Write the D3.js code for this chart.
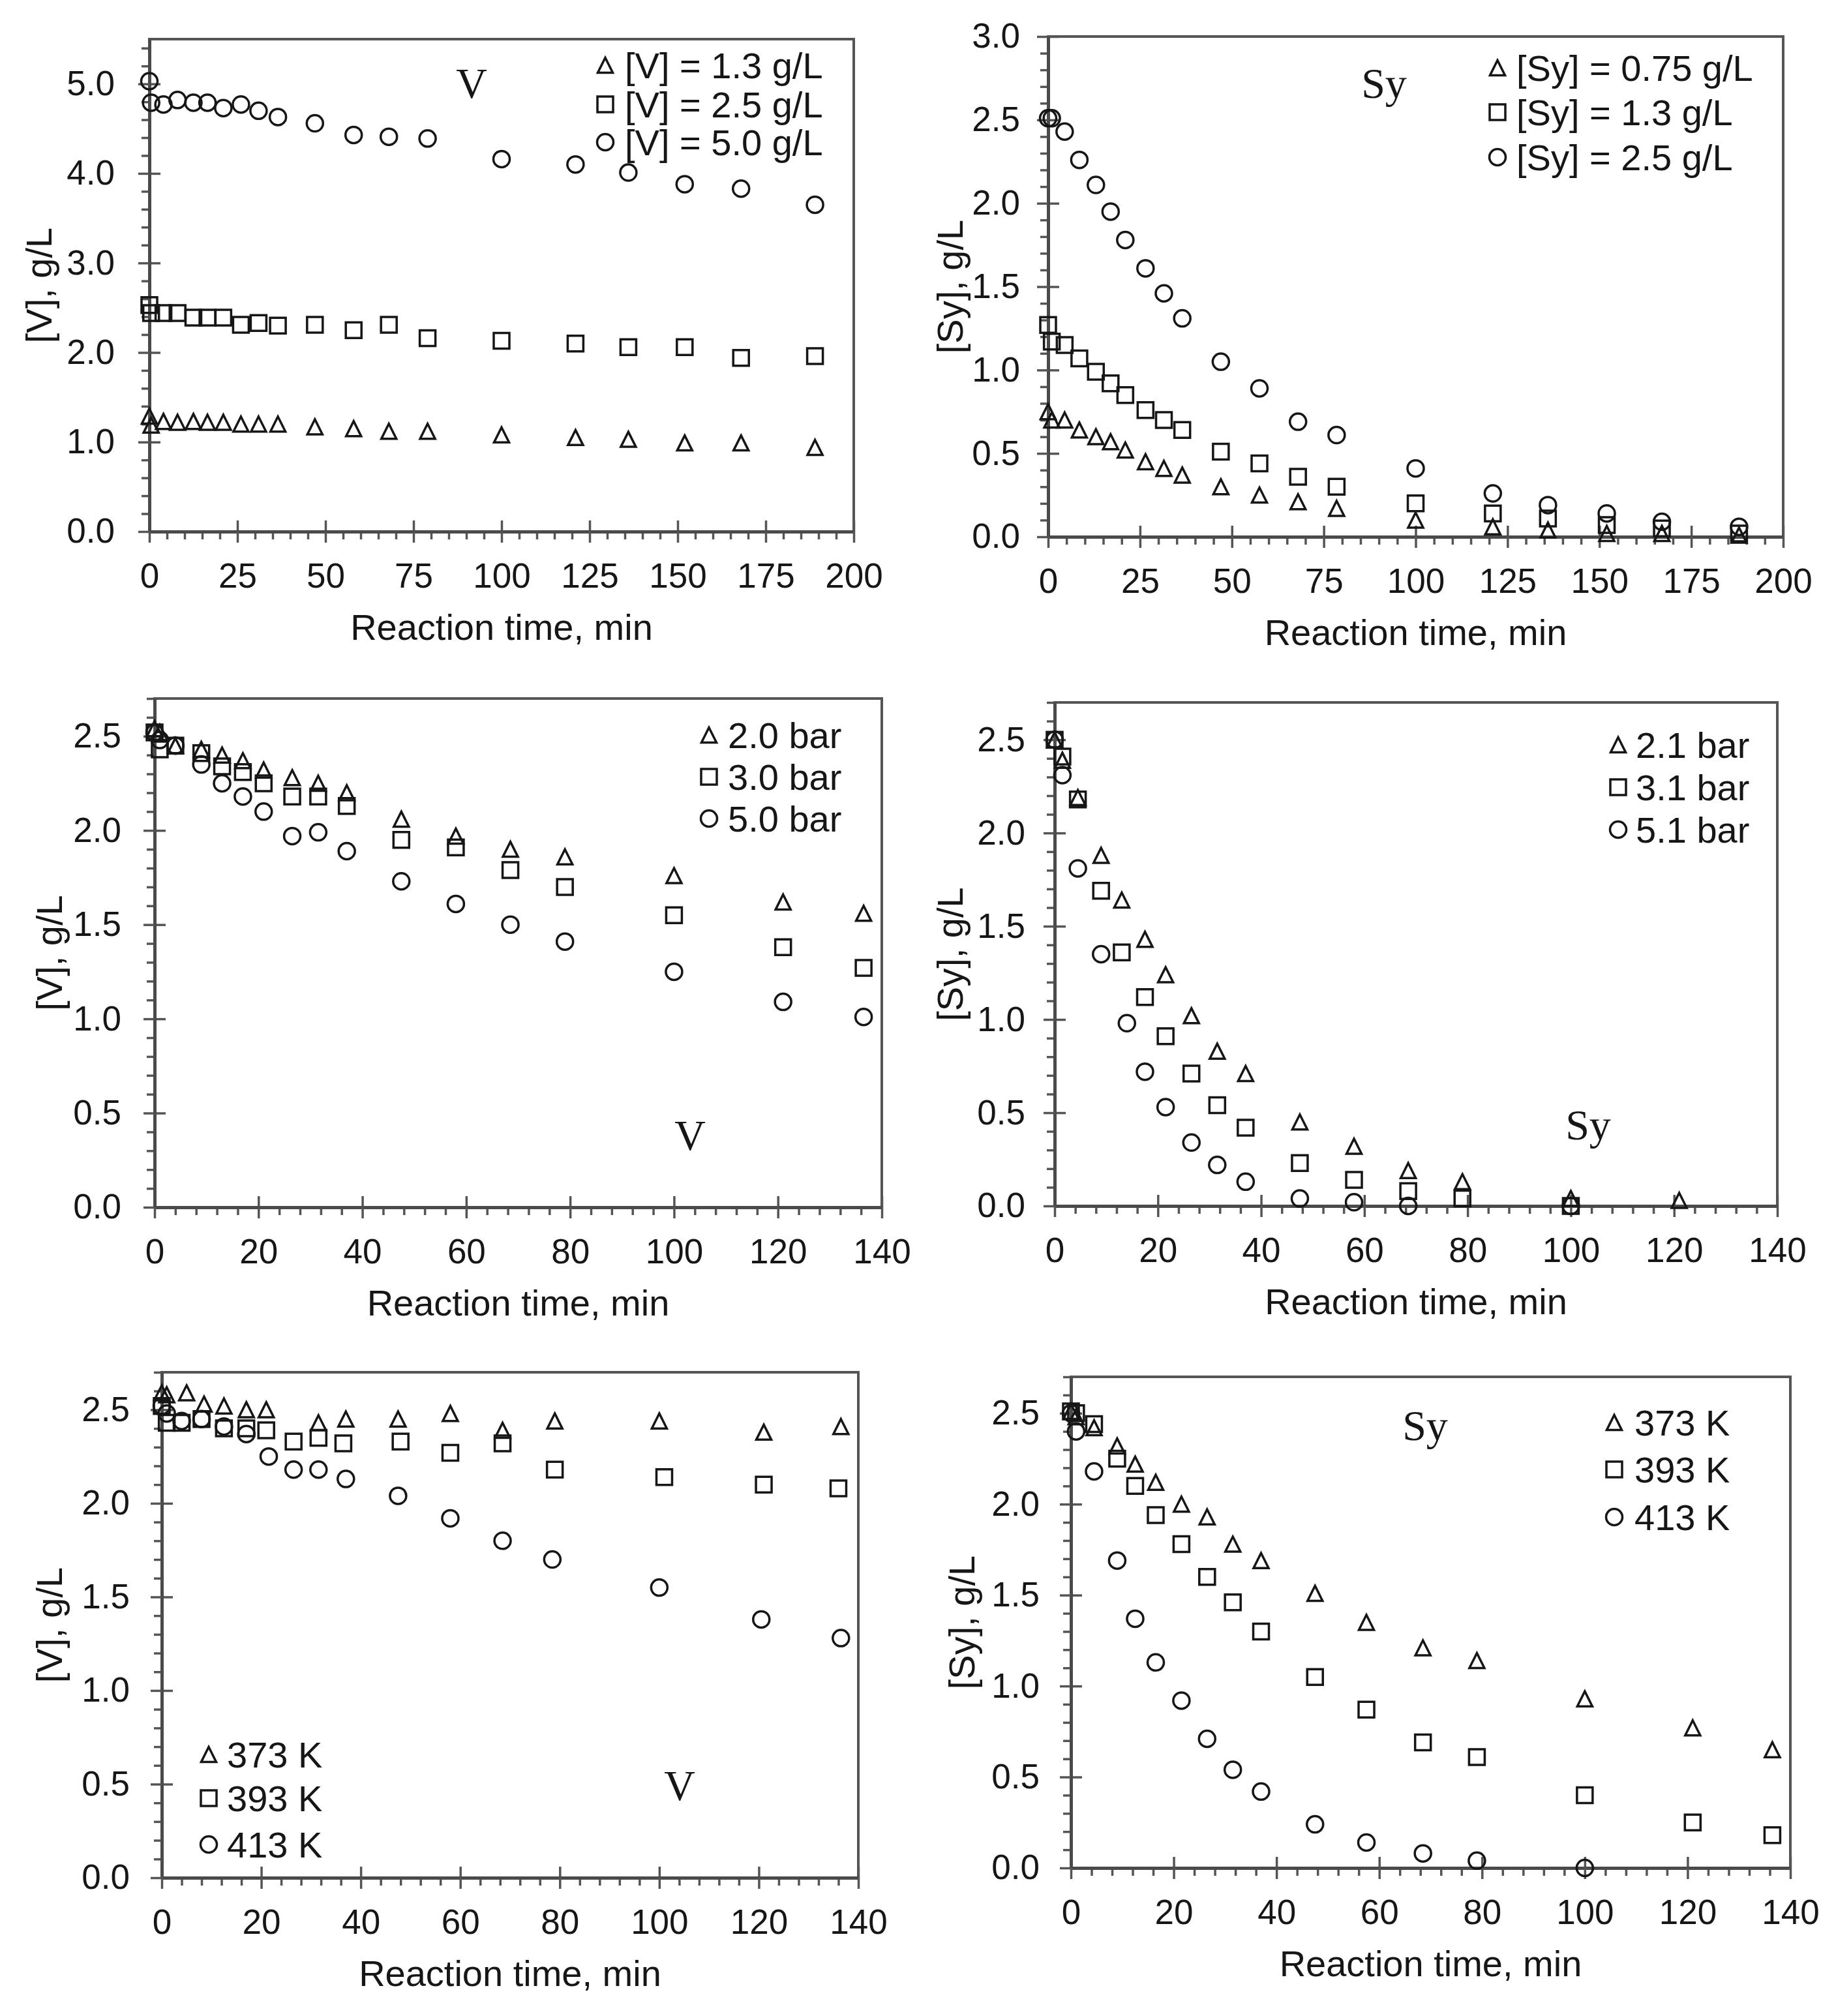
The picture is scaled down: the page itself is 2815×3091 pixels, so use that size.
<!DOCTYPE html>
<html><head><meta charset="utf-8">
<script src="https://cdn.jsdelivr.net/npm/d3@7"></script>
<style>
html,body{margin:0;padding:0;background:#fff;}
svg{display:block;background:#fff;}
</style></head><body>
<svg id="chart" width="2815" height="3091"></svg>
<script>
// ---------------- DATA ----------------
const xTitle = "Reaction time, min";
const xTicks200 = [0,25,50,75,100,125,150,175,200];
const xTicks140 = [0,20,40,60,80,100,120,140];
const yTicks5 = [0,1,2,3,4,5];
const yTicks3 = [0,0.5,1,1.5,2,2.5,3];
const yTicks25 = [0,0.5,1,1.5,2,2.5];

// Panel 1: V, initial concentration
const p1Time = [0,0.5,4,8,12.5,16.5,21,26,31,36.5,47,58,68,79,100,121,136,152,168,189];
const p1V13 = [1.29,1.19,1.23,1.22,1.23,1.22,1.22,1.20,1.20,1.20,1.17,1.15,1.12,1.12,1.08,1.05,1.03,0.99,0.99,0.94];
const p1V25 = [2.53,2.44,2.44,2.44,2.39,2.39,2.39,2.31,2.33,2.30,2.31,2.25,2.31,2.16,2.13,2.10,2.06,2.06,1.94,1.96];
const p1V50 = [5.03,4.79,4.77,4.82,4.79,4.79,4.73,4.77,4.70,4.63,4.56,4.43,4.41,4.39,4.16,4.10,4.01,3.88,3.83,3.65];
const p1Legend = ["[V] = 1.3 g/L","[V] = 2.5 g/L","[V] = 5.0 g/L"];

// Panel 2: Sy, initial concentration
const p2Time = [0,1,4.5,8.5,13,17,21,26.5,31.5,36.5,47,57.5,68,78.5,100,121,136,152,167,188];
const p2Sy075 = [0.75,0.70,0.70,0.64,0.60,0.57,0.52,0.45,0.41,0.37,0.30,0.25,0.21,0.17,0.10,0.06,0.04,0.02,0.02,0.01];
const p2Sy13 = [1.27,1.17,1.15,1.07,0.99,0.92,0.85,0.76,0.70,0.64,0.51,0.44,0.36,0.30,0.20,0.14,0.11,0.07,0.05,0.02];
const p2Sy25 = [2.51,2.51,2.43,2.26,2.11,1.95,1.78,1.61,1.46,1.31,1.05,0.89,0.69,0.61,0.41,0.26,0.19,0.14,0.09,0.06];
const p2Legend = ["[Sy] = 0.75 g/L","[Sy] = 1.3 g/L","[Sy] = 2.5 g/L"];

// Panel 3: V, pressure
const p3Time = [0,1,4,9,13,17,21,26.5,31.5,37,47.5,58,68.5,79,100,121,136.5];
const p3Bar20 = [2.54,2.52,2.45,2.43,2.40,2.37,2.32,2.28,2.25,2.20,2.06,1.97,1.90,1.86,1.76,1.62,1.56];
const p3Bar30 = [2.52,2.43,2.45,2.41,2.34,2.31,2.25,2.18,2.18,2.13,1.95,1.91,1.79,1.70,1.55,1.38,1.27];
const p3Bar50 = [2.52,2.48,2.45,2.35,2.25,2.18,2.10,1.97,1.99,1.89,1.73,1.61,1.50,1.41,1.25,1.09,1.01];
const p3Legend = ["2.0 bar","3.0 bar","5.0 bar"];

// Panel 4: Sy, pressure
const p4TimeT = [0,1.5,4.5,9,13,17.5,21.5,26.5,31.5,37,47.5,58,68.5,79,100,121];
const p4Bar21 = [2.50,2.39,2.19,1.88,1.64,1.43,1.24,1.02,0.83,0.71,0.45,0.32,0.19,0.13,0.04,0.03];
const p4TimeS = [0,1.5,4.5,9,13,17.5,21.5,26.5,31.5,37,47.5,58,68.5,79,100];
const p4Bar31 = [2.50,2.41,2.18,1.69,1.36,1.12,0.91,0.71,0.54,0.42,0.23,0.14,0.08,0.04,0.00];
const p4TimeC = [0,1.5,4.5,9,14,17.5,21.5,26.5,31.5,37,47.5,58,68.5,100];
const p4Bar51 = [2.50,2.31,1.81,1.35,0.98,0.72,0.53,0.34,0.22,0.13,0.04,0.02,0.00,0.00];
const p4Legend = ["2.1 bar","3.1 bar","5.1 bar"];

// Panel 5: V, temperature
const p5TimeT = [0,1,5,8.5,12.5,17,21,31.5,37,47.5,58,68.5,79,100,121,136.5];
const p5K373 = [2.59,2.58,2.59,2.53,2.52,2.50,2.50,2.43,2.45,2.45,2.48,2.39,2.44,2.44,2.38,2.41];
const p5TimeS = [0,1,4,8,12.5,17,21,26.5,31.5,36.5,48,58,68.5,79,101,121,136];
const p5K393 = [2.52,2.43,2.43,2.45,2.40,2.40,2.39,2.33,2.35,2.32,2.33,2.27,2.32,2.18,2.14,2.10,2.08];
const p5TimeC = [0,1,4,8,12.5,17,21.5,26.5,31.5,37,47.5,58,68.5,78.5,100,120.5,136.5];
const p5K413 = [2.52,2.48,2.44,2.45,2.41,2.37,2.25,2.18,2.18,2.13,2.04,1.92,1.80,1.70,1.55,1.38,1.28];
const p5Legend = ["373 K","393 K","413 K"];

// Panel 6: Sy, temperature
const p6Time = [0,1,4.5,9,12.5,16.5,21.5,26.5,31.5,37,47.5,57.5,68.5,79,100,121,136.5];
const p6K373 = [2.51,2.48,2.42,2.32,2.22,2.12,2.00,1.93,1.78,1.69,1.51,1.35,1.21,1.14,0.93,0.77,0.65];
const p6K393 = [2.51,2.50,2.44,2.25,2.10,1.94,1.78,1.60,1.46,1.30,1.05,0.87,0.69,0.61,0.40,0.25,0.18];
const p6K413 = [2.50,2.40,2.18,1.69,1.37,1.13,0.92,0.71,0.54,0.42,0.24,0.14,0.08,0.04,0.00];
const p6Legend = ["373 K","393 K","413 K"];

// ---------------- DRAWING ----------------
const svg = d3.select("#chart");
svg.append("rect").attr("width",2815).attr("height",3091).attr("fill","#fff");

const SANS = '"Liberation Sans", Arial, Helvetica, sans-serif';
const SERIF = '"Liberation Serif", "Times New Roman", serif';
const INK = "#161616";
const AXIS = "#4a4a4a";

const triangleType = { draw(ctx, size){ const w = Math.sqrt(size); const h = w; ctx.moveTo(0,-h/2); ctx.lineTo(w/2,h/2); ctx.lineTo(-w/2,h/2); ctx.closePath(); } };
const squareType = { draw(ctx, size){ const s = Math.sqrt(size); ctx.rect(-s/2,-s/2,s,s); } };
const circleType = { draw(ctx, size){ const r = Math.sqrt(size)/2; ctx.moveTo(r,0); ctx.arc(0,0,r,0,2*Math.PI); } };
const shapes = {
  tri: d3.symbol().type(triangleType).size(23*23),
  sq: d3.symbol().type(squareType).size(24*24),
  cir: d3.symbol().type(circleType).size(25*25)
};

function styleAxis(sel, fontSize){
  sel.attr("font-family", SANS).attr("font-size", fontSize);
  sel.select(".domain").attr("stroke", AXIS).attr("stroke-width", 5);
  sel.selectAll(".tick line").attr("stroke", "#555").attr("stroke-width", 3.5);
  sel.selectAll(".tick text").attr("fill", INK);
}

function drawPanel(c){
  const g = svg.append("g");
  const x = d3.scaleLinear().domain(c.xDomain).range([c.L, c.R]);
  const y = d3.scaleLinear().domain(c.yDomain).range([c.B, c.T]);

  // frame
  g.append("rect").attr("x",c.L).attr("y",c.T).attr("width",c.R-c.L).attr("height",c.B-c.T)
    .attr("fill","none").attr("stroke","#555").attr("stroke-width",4);

  const near = (arr,v) => arr.some(t => Math.abs(t-v) < 1e-6);
  const xMinor = d3.range(c.xDomain[0], c.xDomain[1]+1e-6, c.xMinor).filter(v => !near(c.xTicks,v));
  const yMinor = d3.range(c.yDomain[0], c.yDomain[1]+1e-6, c.yMinor).map(v=>+v.toFixed(4)).filter(v => !near(c.yTicks,v));

  // minor ticks (outward)
  g.append("g").attr("transform",`translate(0,${c.B})`)
    .call(d3.axisBottom(x).tickValues(xMinor).tickSize(12).tickSizeOuter(0).tickFormat(""))
    .call(s=>{ s.select(".domain").remove(); s.selectAll(".tick line").attr("stroke","#555").attr("stroke-width",3.5); });
  g.append("g").attr("transform",`translate(${c.L},0)`)
    .call(d3.axisLeft(y).tickValues(yMinor).tickSize(12).tickSizeOuter(0).tickFormat(""))
    .call(s=>{ s.select(".domain").remove(); s.selectAll(".tick line").attr("stroke","#555").attr("stroke-width",3.5); });

  // major ticks inward (crossing)
  g.append("g").attr("transform",`translate(0,${c.B})`)
    .call(d3.axisTop(x).tickValues(c.xTicks).tickSize(17).tickSizeOuter(0).tickFormat(""))
    .call(s=>{ s.select(".domain").remove(); s.selectAll(".tick line").attr("stroke","#555").attr("stroke-width",3.5); });
  g.append("g").attr("transform",`translate(${c.L},0)`)
    .call(d3.axisRight(y).tickValues(c.yTicks).tickSize(17).tickSizeOuter(0).tickFormat(""))
    .call(s=>{ s.select(".domain").remove(); s.selectAll(".tick line").attr("stroke","#555").attr("stroke-width",3.5); });

  // major axes with labels
  g.append("g").attr("transform",`translate(0,${c.B})`)
    .call(d3.axisBottom(x).tickValues(c.xTicks).tickSize(17).tickSizeOuter(0).tickPadding(31).tickFormat(d3.format("d")))
    .call(s=>styleAxis(s, 53));
  g.append("g").attr("transform",`translate(${c.L},0)`)
    .call(d3.axisLeft(y).tickValues(c.yTicks).tickSize(17).tickSizeOuter(0).tickPadding(c.yPad).tickFormat(d3.format(".1f")))
    .call(s=>styleAxis(s, 53));

  // titles
  g.append("text").attr("x",(c.L+c.R)/2).attr("y",c.B+166).attr("text-anchor","middle")
    .attr("font-family",SANS).attr("font-size",56).attr("fill",INK).text(xTitle);
  g.append("text").attr("transform",`translate(${c.yTitleX},${(c.T+c.B)/2}) rotate(-90)`)
    .attr("text-anchor","middle").attr("font-family",SANS).attr("font-size",56).attr("fill",INK).text(c.yTitle);

  // species label
  g.append("text").attr("x",c.tag.x).attr("y",c.tag.y).attr("text-anchor","middle")
    .attr("font-family",SERIF).attr("font-size",66).attr("fill",INK).text(c.tag.text);

  // series
  c.series.forEach(s=>{
    g.append("g").selectAll("path").data(d3.zip(s.t, s.v)).join("path")
      .attr("transform", d=>`translate(${x(d[0])},${y(d[1])})`)
      .attr("d", shapes[s.shape]())
      .attr("fill","none").attr("stroke",INK).attr("stroke-width",3.5);
  });

  // legend
  const lg = g.append("g");
  c.series.forEach((s,i)=>{
    const ly = c.legend.rows[i];
    lg.append("path").attr("transform",`translate(${c.legend.sx},${ly})`).attr("d",shapes[s.shape]())
      .attr("fill","none").attr("stroke",INK).attr("stroke-width",3.5);
    lg.append("text").attr("x",c.legend.tx).attr("y",ly).attr("dy","0.36em")
      .attr("font-family",SANS).attr("font-size",56).attr("fill",INK).text(c.legend.labels[i]);
  });
}

const panels = [
  { L:229, R:1309, T:60, B:815, xDomain:[0,200], xTicks:xTicks200, xMinor:5, yDomain:[0,5.5], yTicks:yTicks5, yMinor:0.2, yPad:36,
    yTitle:"[V], g/L", yTitleX:79, tag:{text:"V", x:723, y:150},
    legend:{sx:928, tx:958, rows:[100,160,218], labels:p1Legend},
    series:[{t:p1Time,v:p1V13,shape:"tri"},{t:p1Time,v:p1V25,shape:"sq"},{t:p1Time,v:p1V50,shape:"cir"}] },
  { L:1607, R:2734, T:56, B:823, xDomain:[0,200], xTicks:xTicks200, xMinor:5, yDomain:[0,3], yTicks:yTicks3, yMinor:0.1, yPad:26,
    yTitle:"[Sy], g/L", yTitleX:1476, tag:{text:"Sy", x:2122, y:150},
    legend:{sx:2296, tx:2325, rows:[104,172,241], labels:p2Legend},
    series:[{t:p2Time,v:p2Sy075,shape:"tri"},{t:p2Time,v:p2Sy13,shape:"sq"},{t:p2Time,v:p2Sy25,shape:"cir"}] },
  { L:237, R:1352, T:1071, B:1851, xDomain:[0,140], xTicks:xTicks140, xMinor:4, yDomain:[0,2.7], yTicks:yTicks25, yMinor:0.1, yPad:34,
    yTitle:"[V], g/L", yTitleX:95, tag:{text:"V", x:1058, y:1763},
    legend:{sx:1087, tx:1116, rows:[1127,1191,1255], labels:p3Legend},
    series:[{t:p3Time,v:p3Bar20,shape:"tri"},{t:p3Time,v:p3Bar30,shape:"sq"},{t:p3Time,v:p3Bar50,shape:"cir"}] },
  { L:1617, R:2725, T:1077, B:1849, xDomain:[0,140], xTicks:xTicks140, xMinor:4, yDomain:[0,2.7], yTicks:yTicks25, yMinor:0.1, yPad:28,
    yTitle:"[Sy], g/L", yTitleX:1476, tag:{text:"Sy", x:2435, y:1747},
    legend:{sx:2481, tx:2508, rows:[1142,1207,1272], labels:p4Legend},
    series:[{t:p4TimeT,v:p4Bar21,shape:"tri"},{t:p4TimeS,v:p4Bar31,shape:"sq"},{t:p4TimeC,v:p4Bar51,shape:"cir"}] },
  { L:248, R:1316, T:2104, B:2879, xDomain:[0,140], xTicks:xTicks140, xMinor:4, yDomain:[0,2.7], yTicks:yTicks25, yMinor:0.1, yPad:32,
    yTitle:"[V], g/L", yTitleX:95, tag:{text:"V", x:1042, y:2760},
    legend:{sx:320, tx:348, rows:[2690,2757,2828], labels:p5Legend},
    series:[{t:p5TimeT,v:p5K373,shape:"tri"},{t:p5TimeS,v:p5K393,shape:"sq"},{t:p5TimeC,v:p5K413,shape:"cir"}] },
  { L:1642, R:2745, T:2111, B:2864, xDomain:[0,140], xTicks:xTicks140, xMinor:4, yDomain:[0,2.7], yTicks:yTicks25, yMinor:0.1, yPad:31,
    yTitle:"[Sy], g/L", yTitleX:1494, tag:{text:"Sy", x:2185, y:2208},
    legend:{sx:2475, tx:2506, rows:[2181,2253,2326], labels:p6Legend},
    series:[{t:p6Time,v:p6K373,shape:"tri"},{t:p6Time,v:p6K393,shape:"sq"},{t:p6Time.slice(0,p6K413.length),v:p6K413,shape:"cir"}] }
];

panels.forEach(drawPanel);
</script>
</body></html>
